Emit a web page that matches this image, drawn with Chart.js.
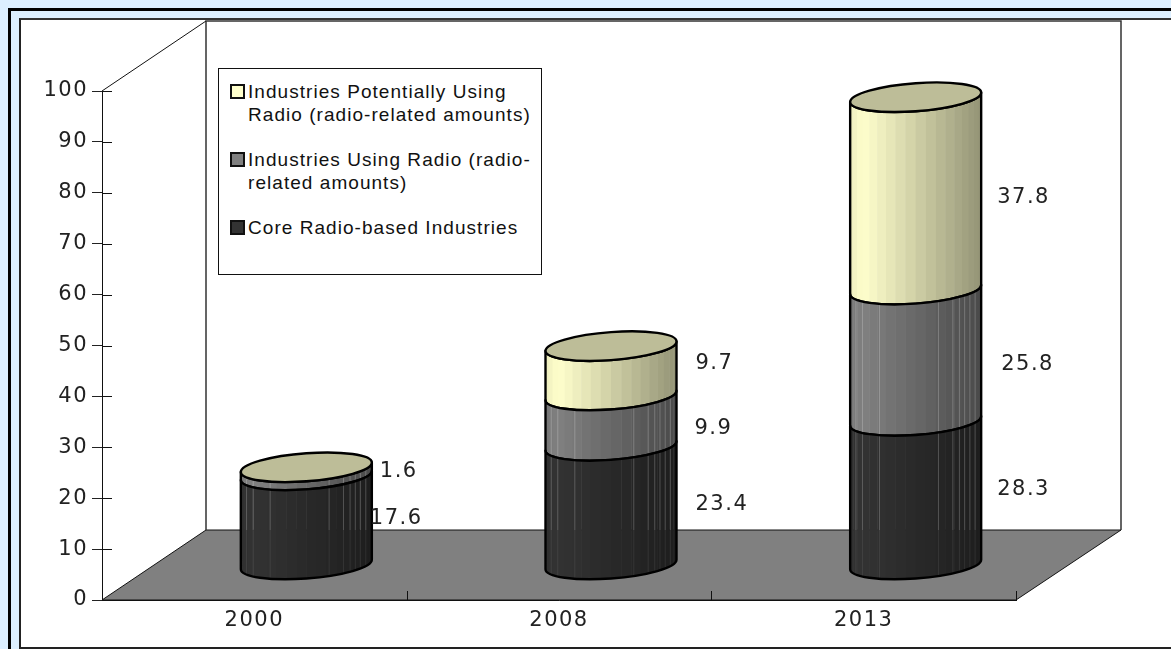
<!DOCTYPE html>
<html>
<head>
<meta charset="utf-8">
<title>Radio industries</title>
<script src="https://cdn.jsdelivr.net/npm/chart.js@4"></script>
<style>
  html, body { margin: 0; height: 100%; overflow: hidden; background: #dcefff; }
  #outer { position: absolute; left: 8px; top: 8px; width: 1200px; height: 700px; border-left: 3px solid #000; border-top: 3px solid #000; }
  #inner { position: absolute; left: 19px; top: 18px; width: 1200px; height: 627px; background: #fff; border: 2px solid #222; border-top-color: #333; }
  #chart { position: absolute; left: 0; top: 0; }
  #legend { position: absolute; left: 218px; top: 68px; width: 322px; height: 205px; background: #fff; border: 1px solid #111;
            font: 19px "Liberation Sans", Arial, sans-serif; letter-spacing: 1.05px; line-height: 23px; color: #111; }
  #legend div { position: relative; margin: 0 0 22px 29px; width: 288px; }
  #legend div:first-child { margin-top: 11px; }
  #legend i { position: absolute; left: -18px; top: 4px; width: 11px; height: 11px; border: 2px solid #111; }
</style>
</head>
<body>
<div id="outer"></div>
<div id="inner"></div>
<canvas id="chart" width="1171" height="649"></canvas>
<div id="legend"></div>
<script>
const years = ['2000', '2008', '2013'];
const seriesNames = ['Core Radio-based Industries', 'Industries Using Radio (radio-related amounts)', 'Industries Potentially Using Radio (radio-related amounts)'];
const coreValues = [17.6, 23.4, 28.3];
const usingValues = [1.6, 9.9, 25.8];
const potentialValues = [0, 9.7, 37.8];
const yTicks = [0, 10, 20, 30, 40, 50, 60, 70, 80, 90, 100];
const seriesColors = ['#333333', '#808080', '#ffffcc'];

// nudges for value labels [dx, dy], per year then per dataset
const labelNudge = [
  [[-2, -1], [8, 0], [0, 0]],
  [[19, -1], [18, 8], [19, -7]],
  [[16, -3], [20, 9], [16, 4]]
];

const depthX = 104, depthY = 70;   // how far the back wall sits behind the axes
const capColor = '#bdbd98';
const skew = -4.7, capHeight = 14; // tilt and half height of the ellipses
const floorY = 530;
// thin bright seams on the dark cylinders, as fraction of width
const seams = [0.04, 0.09, 0.22, 0.67, 0.78, 0.83, 0.87, 0.91, 0.95];

function shade(hex, f) {
  const n = parseInt(hex.slice(1), 16);
  const c = [n >> 16, (n >> 8) & 255, n & 255].map(v => Math.min(255, Math.round(v * f)));
  return `rgb(${c[0]},${c[1]},${c[2]})`;
}

function frontArc(ctx, cx, cy, a, fromRight) {
  ctx.save();
  ctx.transform(1, skew / a, 0, 1, cx, cy);
  if (fromRight) ctx.ellipse(0, 0, a, capHeight, 0, 0, Math.PI, false);
  else ctx.ellipse(0, 0, a, capHeight, 0, Math.PI, 0, true);
  ctx.restore();
}

// every bar is drawn as a slice of cylinder standing on the floor
Chart.BarElement.prototype.draw = function (ctx) {
  const a = this.width / 2;
  const cx = this.x + depthX / 2;
  const top = this.y - depthY / 2;
  const bottom = this.base - depthY / 2;
  if (bottom - top < 0.5) return;
  const color = this.options.backgroundColor;

  const outline = () => {
    ctx.beginPath();
    frontArc(ctx, cx, top, a, true);
    frontArc(ctx, cx, bottom, a, false);
    ctx.closePath();
  };

  ctx.save();
  outline();
  ctx.clip();
  const y0 = top - 30, h = bottom - top + 60;
  for (let deg = 0; deg < 180; deg += 9) {
    const x1 = cx - a * Math.cos(deg * Math.PI / 180);
    const x2 = cx - a * Math.cos((deg + 9) * Math.PI / 180);
    const u = (x1 + x2) / 2 - (cx - a);
    const p = u / (2 * a);
    const f = p < 0.1 ? 0.93 + p * 0.7 : 1 - (p - 0.1) * 0.47;
    ctx.fillStyle = shade(color, f);
    ctx.fillRect(x1, y0, x2 - x1 + 0.5, h);
  }
  if (color !== seriesColors[2]) {
    seams.forEach(s => {
      const x = cx - a + s * 2 * a;
      ctx.fillStyle = 'rgba(255,255,255,0.22)';
      ctx.fillRect(x, y0, 1, floorY - y0);
      ctx.fillStyle = 'rgba(255,255,255,0.08)';
      ctx.fillRect(x, floorY, 1, bottom + 30 - floorY);
    });
  }
  ctx.restore();

  outline();
  ctx.strokeStyle = '#000';
  ctx.lineWidth = 2.4;
  ctx.lineJoin = 'round';
  ctx.stroke();
};

const scenery = {
  id: 'scenery',
  beforeDraw(chart) {
    const ctx = chart.ctx;
    ctx.letterSpacing = '1.5px';
  },
  beforeDatasetsDraw(chart) {
    const ctx = chart.ctx, x = chart.scales.x, y = chart.scales.y;
    const l = x.left, r = x.right, b = y.bottom, t = y.top;
    ctx.save();
    // floor
    ctx.fillStyle = '#808080';
    ctx.beginPath();
    ctx.moveTo(l, b);
    ctx.lineTo(l + depthX, b - depthY);
    ctx.lineTo(r + depthX + 1, b - depthY);
    ctx.lineTo(r, b);
    ctx.closePath();
    ctx.fill();
    ctx.strokeStyle = '#111';
    ctx.lineWidth = 1;
    ctx.stroke();
    // back wall
    ctx.lineWidth = 1.5;
    ctx.strokeStyle = '#333';
    ctx.beginPath();
    ctx.moveTo(l + depthX, b - depthY);
    ctx.lineTo(l + depthX, t - depthY);
    ctx.lineTo(r + depthX + 1, t - depthY);
    ctx.lineTo(r + depthX + 1, b - depthY);
    ctx.stroke();
    // side wall
    ctx.lineWidth = 1;
    ctx.strokeStyle = '#111';
    ctx.beginPath();
    ctx.moveTo(l, t);
    ctx.lineTo(l + depthX, t - depthY);
    ctx.stroke();
    // tick stubs running into the plot
    yTicks.forEach(v => {
      const py = Math.round(y.getPixelForValue(v)) + 0.5;
      ctx.beginPath();
      ctx.moveTo(l, py);
      ctx.lineTo(l + 10, py);
      ctx.stroke();
    });
    years.forEach((_, i) => {
      const px = Math.round(x.getPixelForValue(i) + x.width / years.length / 2) + 0.5;
      ctx.beginPath();
      ctx.moveTo(px, b);
      ctx.lineTo(px, b - 9);
      ctx.stroke();
    });
    ctx.restore();
  },
  afterDatasetsDraw(chart) {
    const ctx = chart.ctx;
    const last = chart.data.datasets.length - 1;
    // lid of each stack
    chart.getDatasetMeta(last).data.forEach(bar => {
      const a = bar.width / 2, cx = bar.x + depthX / 2, cy = bar.y - depthY / 2;
      ctx.save();
      ctx.beginPath();
      ctx.save();
      ctx.transform(1, skew / a, 0, 1, cx, cy);
      ctx.ellipse(0, 0, a, capHeight, 0, 0, Math.PI * 2);
      ctx.restore();
      ctx.fillStyle = capColor;
      ctx.fill();
      ctx.strokeStyle = '#000';
      ctx.lineWidth = 2.4;
      ctx.stroke();
      ctx.restore();
    });
    // value labels right of the cylinders
    ctx.save();
    ctx.font = '21px "DejaVu Sans"';
    ctx.letterSpacing = '1.5px';
    ctx.fillStyle = '#222';
    ctx.textAlign = 'left';
    ctx.textBaseline = 'middle';
    chart.data.datasets.forEach((ds, d) => {
      chart.getDatasetMeta(d).data.forEach((bar, i) => {
        if (!ds.data[i]) return;
        const n = labelNudge[i][d];
        const tx = bar.x + depthX / 2 + bar.width / 2 + n[0];
        const ty = (bar.y + bar.base) / 2 - depthY / 2 + n[1];
        ctx.fillText(ds.data[i].toFixed(1), tx, ty);
      });
    });
    ctx.restore();
  }
};

new Chart(document.getElementById('chart'), {
  type: 'bar',
  data: {
    labels: years,
    datasets: [
      { label: seriesNames[0], data: coreValues, backgroundColor: seriesColors[0] },
      { label: seriesNames[1], data: usingValues, backgroundColor: seriesColors[1] },
      { label: seriesNames[2], data: potentialValues, backgroundColor: seriesColors[2] }
    ]
  },
  options: {
    responsive: false,
    animation: false,
    categoryPercentage: 1,
    barPercentage: 0.43,
    layout: { autoPadding: false, padding: { left: 0, top: 91, right: 155, bottom: 0 } },
    plugins: { legend: { display: false }, tooltip: { enabled: false } },
    scales: {
      x: {
        stacked: true,
        afterFit: s => { s.height = 49; },
        grid: { drawOnChartArea: false, drawTicks: false },
        border: { color: '#111', width: 1 },
        ticks: { padding: 8, color: '#222', font: { family: 'DejaVu Sans', size: 21 }, maxRotation: 0 }
      },
      y: {
        stacked: true,
        min: 0,
        max: 100,
        afterFit: s => { s.width = 102; },
        afterBuildTicks: s => { s.ticks = yTicks.map(v => ({ value: v })); },
        grid: { drawOnChartArea: false, tickLength: 10, color: '#222' },
        border: { color: '#111', width: 1 },
        ticks: { padding: 4, color: '#222', font: { family: 'DejaVu Sans', size: 21 } }
      }
    }
  },
  plugins: [scenery]
});

// legend box, top series first
const legendBox = document.getElementById('legend');
seriesNames.slice().reverse().forEach((name, i) => {
  const row = document.createElement('div');
  const swatch = document.createElement('i');
  swatch.style.background = seriesColors[seriesColors.length - 1 - i];
  row.appendChild(swatch);
  row.appendChild(document.createTextNode(name));
  legendBox.appendChild(row);
});
</script>
</body>
</html>
